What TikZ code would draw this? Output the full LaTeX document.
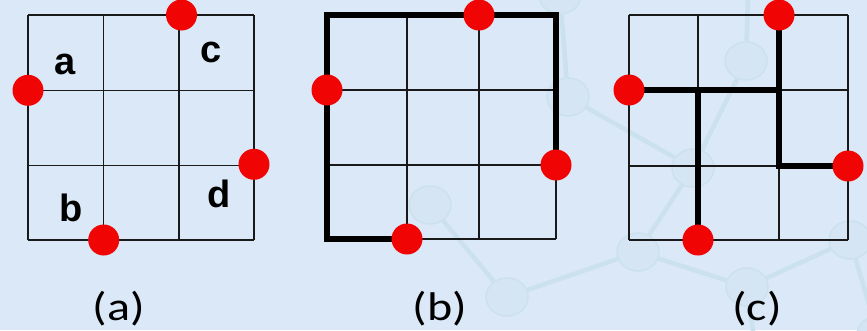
\documentclass[tikz,border=0pt]{standalone}
\usepackage{fontspec}
\setmainfont{Carlito}
\newfontfamily\capfont[FakeStretch=1.2]{Carlito}
\newfontfamily\labfont{Liberation Sans}
\usetikzlibrary{shapes.geometric}
\definecolor{bg}{RGB}{218,232,247}
\definecolor{wmfill}{RGB}{213,229,244}
\definecolor{wmline}{RGB}{204,225,238}
\definecolor{dotred}{RGB}{240,4,4}
\definecolor{gridc}{RGB}{25,25,25}
\tikzset{
  gridline/.style={draw=gridc, line width=1.1pt},
  thickpath/.style={draw=black, line width=6pt, line join=miter},
  dot/.style={circle, fill=dotred, minimum size=31pt, inner sep=0pt},
  lab/.style={font=\labfont\bfseries\fontsize{38}{38}\selectfont, anchor=base, inner sep=0pt},
  capt/.style={font=\capfont\fontsize{40}{40}\selectfont, anchor=base, inner sep=0pt},
  wmnode/.style={ellipse, draw=wmline, fill=wmfill, line width=1.5pt, minimum width=42pt, minimum height=38pt, inner sep=0pt},
  wmedge/.style={draw=wmline, line width=4.5pt}
}
\begin{document}
\begin{tikzpicture}[x=1pt,y=-1pt]
\useasboundingbox (0,0) rectangle (867,330);
\fill[bg] (0,0) rectangle (867,330);
\clip (0,0) rectangle (867,330);
% watermark network
\node[wmnode] (w1) at (560,-5) {};
\node[wmnode] (w2) at (568,97) {};
\node[wmnode] (w3) at (746,61) {};
\node[wmnode] (w4) at (693,168) {};
\node[wmnode] (w5) at (430,205) {};
\node[wmnode] (w6) at (507,297) {};
\node[wmnode] (w7) at (638,252) {};
\node[wmnode] (w8) at (747,287) {};
\node[wmnode] (w9) at (850,240) {};
\node[wmnode] (w10) at (878,335) {};
\coordinate (wt) at (749,-40);
\coordinate (wb) at (757,360);
\foreach \s/\t in {w1/w2, w3/wt, w2/w4, w3/w4, w4/w7, w5/w6, w6/w7, w7/w8, w8/w9, w9/w10, w8/wb}
  \draw[wmedge] (\s) -- (\t);
% grid coordinates
\foreach \p/\xa/\xb/\xc/\xd/\ya/\yb/\yc/\yd in {a/28/103.7/179/254/15/90.3/165.3/240, b/327/407/479/556/15/90/165/239, c/629/698/779/848/15/90/166/240} {
  \foreach \i/\x in {0/\xa,1/\xb,2/\xc,3/\xd} {
    \foreach \j/\y in {0/\ya,1/\yb,2/\yc,3/\yd} {
      \coordinate (\p\i\j) at (\x,\y);
    }
  }
  \foreach \i in {0,1,2,3} {
    \draw[gridline] (\p\i0) -- (\p\i3);
    \draw[gridline] (\p0\i) -- (\p3\i);
  }
}
% thick paths
\draw[thickpath] (b13) -- (b03) -- (b00) -- (b30) -- (b32);
\draw[thickpath] (c01) -- (c21);
\draw[thickpath] (c20) -- (c22) -- (c32);
\draw[thickpath] (c11) -- (c13);
% dots
\node[dot] (aT) at ([xshift=2.5pt]a20) {};
\node[dot] (aL) at (a01) {};
\node[dot] (aR) at ([yshift=1pt]a32) {};
\node[dot] (aB) at (a13) {};
\node[dot] (bT) at (b20) {};
\node[dot] (bL) at (b01) {};
\node[dot] (bR) at (b32) {};
\node[dot] (bB) at (b13) {};
\node[dot] (cT) at (c20) {};
\node[dot] (cL) at (c01) {};
\node[dot] (cR) at (c32) {};
\node[dot] (cB) at (c13) {};
% labels
\node[lab] (la) at (65,74) {a};
\node[lab] (lc) at (211,62) {c};
\node[lab] (lb) at (71,221) {b};
\node[lab] (ld) at (219,207) {d};
% captions
\node[capt] (ca) at (119,320) {(a)};
\node[capt] (cb) at (440,320) {(b)};
\node[capt] (cc) at (757,320) {(c)};
\end{tikzpicture}
\end{document}
